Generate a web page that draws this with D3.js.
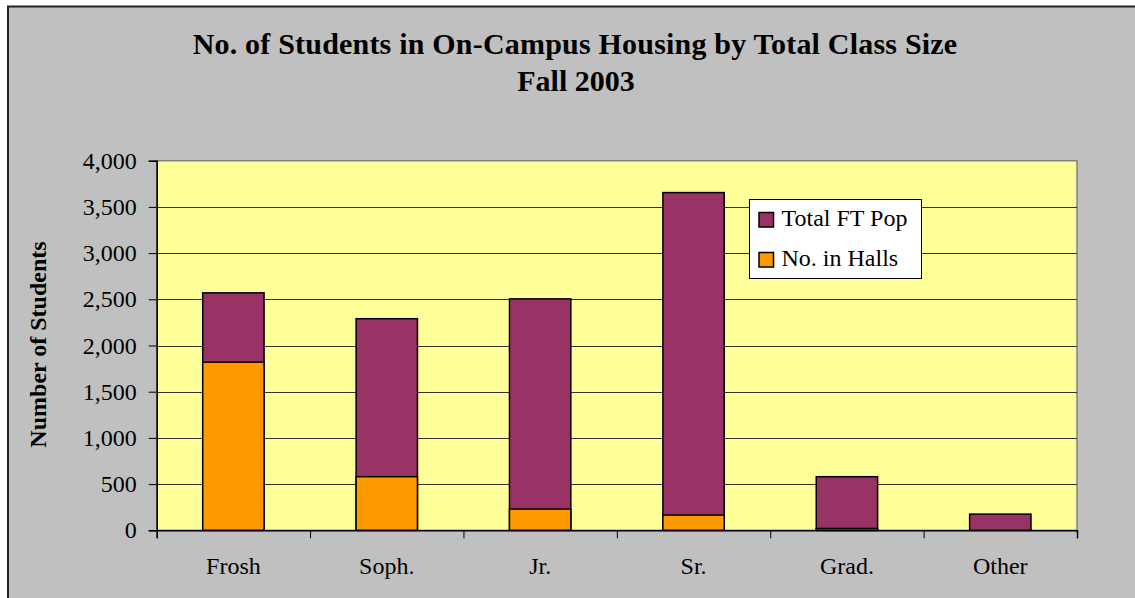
<!DOCTYPE html>
<html>
<head>
<meta charset="utf-8">
<script src="https://cdn.jsdelivr.net/npm/d3@7"></script>
<style>
  body { margin: 0; background: #fff; }
  svg { display: block; }
</style>
</head>
<body>
<div id="chart"></div>
<script>
// chart data
var categories = ["Frosh", "Soph.", "Jr.", "Sr.", "Grad.", "Other"]
var totalFT = [2570, 2290, 2505, 3655, 580, 175]
var inHalls = [1820, 580, 230, 165, 20, 0]
var yTicks = [0, 500, 1000, 1500, 2000, 2500, 3000, 3500, 4000]
var seriesNames = ["Total FT Pop", "No. in Halls"]

function initialize() {
	var width = 1135,
		height = 598

	var plot = {left: 156.7, right: 1077, top: 160.7, bottom: 530.3}

	var serif = "'Liberation Serif', 'Times New Roman', serif"
	var purple = "#993366", orange = "#ff9900"
	var fontSize = 24

	var svg = d3.select("#chart")
		.append("svg")
		.attr("width", width)
		.attr("height", height)

	// gray chart background and frame
	svg.append("rect")
		.attr("x", 0).attr("y", 0)
		.attr("width", width).attr("height", height)
		.attr("fill", "#fff")
	svg.append("rect")
		.attr("x", 8).attr("y", 6.5)
		.attr("width", width + 20).attr("height", height + 20)
		.attr("fill", "#c0c0c0")
		.attr("stroke", "#222")
		.attr("stroke-width", 2)

	// title
	var title = svg.append("text")
		.attr("text-anchor", "middle")
		.attr("font-family", serif)
		.attr("font-weight", "bold")
		.attr("font-size", 30)
		.attr("fill", "#000")
	title.append("tspan").attr("x", 575).attr("y", 54)
		.attr("letter-spacing", 0.2)
		.text("No. of Students in On-Campus Housing by Total Class Size")
	title.append("tspan").attr("x", 576).attr("y", 91)
		.text("Fall 2003")

	var x = d3.scaleBand()
		.domain(categories)
		.range([plot.left, plot.right])
		.paddingInner(0.6)
		.paddingOuter(0.3)

	var xEdge = d3.scaleLinear()
		.domain([0, categories.length])
		.range([plot.left, plot.right])

	var y = d3.scaleLinear()
		.domain([0, 4000])
		.range([plot.bottom, plot.top])

	// plot area
	svg.append("rect")
		.attr("x", plot.left).attr("y", plot.top)
		.attr("width", plot.right - plot.left)
		.attr("height", plot.bottom - plot.top)
		.attr("fill", "#ffff99")
		.attr("stroke", "#808080")
		.attr("stroke-width", 1.5)

	// gridlines
	svg.append("g")
		.selectAll("line")
		.data(yTicks.filter(d => d > 0 && d < 4000))
		.enter()
		.append("line")
		.attr("x1", plot.left).attr("x2", plot.right)
		.attr("y1", d => Math.round(y(d)) + 0.5)
		.attr("y2", d => Math.round(y(d)) + 0.5)
		.attr("stroke", "#333")
		.attr("stroke-width", 1)

	// y axis
	var yAxis = svg.append("g")
		.attr("transform", "translate(" + plot.left + ",0)")
		.call(d3.axisLeft(y)
			.tickValues(yTicks)
			.tickSize(8)
			.tickPadding(12)
			.tickFormat(d3.format(",")))
	yAxis.select(".domain").attr("stroke", "#000").attr("stroke-width", 1.5)
	yAxis.selectAll(".tick line").attr("stroke", "#000")
	yAxis.selectAll("text")
		.attr("font-family", serif)
		.attr("font-size", fontSize)
		.attr("fill", "#000")

	// x axis (ticks between categories)
	var xAxis = svg.append("g")
		.attr("transform", "translate(0," + plot.bottom + ")")
		.call(d3.axisBottom(xEdge)
			.tickValues(d3.range(categories.length + 1))
			.tickSize(8)
			.tickFormat(""))
	xAxis.select(".domain").attr("stroke", "#000").attr("stroke-width", 1.5)
	xAxis.selectAll(".tick line").attr("stroke", "#000")

	svg.append("g")
		.selectAll("text")
		.data(categories)
		.enter()
		.append("text")
		.attr("x", d => x(d) + x.bandwidth() / 2)
		.attr("y", 574)
		.attr("text-anchor", "middle")
		.attr("font-family", serif)
		.attr("font-size", fontSize)
		.attr("fill", "#000")
		.text(d => d)

	// y axis title
	svg.append("text")
		.attr("transform", "translate(46," + ((plot.top + plot.bottom) / 2 - 1) + ") rotate(-90)")
		.attr("text-anchor", "middle")
		.attr("font-family", serif)
		.attr("font-weight", "bold")
		.attr("font-size", fontSize)
		.attr("fill", "#000")
		.text("Number of Students")

	// bars: total first, then the halls part on top of it
	var bars = svg.append("g")
	bars.selectAll(".total")
		.data(categories)
		.enter()
		.append("rect")
		.attr("class", "total")
		.attr("x", d => x(d))
		.attr("width", x.bandwidth())
		.attr("y", (d, i) => y(totalFT[i]))
		.attr("height", (d, i) => y(0) - y(totalFT[i]))
		.attr("fill", purple)
		.attr("stroke", "#000")
		.attr("stroke-width", 1.5)

	bars.selectAll(".halls")
		.data(categories.filter((d, i) => inHalls[i] > 0))
		.enter()
		.append("rect")
		.attr("class", "halls")
		.attr("x", d => x(d))
		.attr("width", x.bandwidth())
		.attr("y", d => y(inHalls[categories.indexOf(d)]))
		.attr("height", d => y(0) - y(inHalls[categories.indexOf(d)]))
		.attr("fill", orange)
		.attr("stroke", "#000")
		.attr("stroke-width", 1.5)

	// legend
	var legend = svg.append("g")
	legend.append("rect")
		.attr("x", 749.5).attr("y", 199.5)
		.attr("width", 172).attr("height", 79)
		.attr("fill", "#fff")
		.attr("stroke", "#000")
		.attr("stroke-width", 1)

	var colors = [purple, orange]
	var item = legend.selectAll(".item")
		.data(seriesNames)
		.enter()
		.append("g")
		.attr("transform", (d, i) => "translate(759," + (212.5 + i * 40) + ")")
	item.append("rect")
		.attr("width", 14.5).attr("height", 14.5)
		.attr("fill", (d, i) => colors[i])
		.attr("stroke", "#000")
		.attr("stroke-width", 1.5)
	item.append("text")
		.attr("x", 22.5).attr("y", 13.5)
		.attr("font-family", serif)
		.attr("font-size", fontSize)
		.attr("fill", "#000")
		.text(d => d)
}

initialize()
</script>
</body>
</html>
